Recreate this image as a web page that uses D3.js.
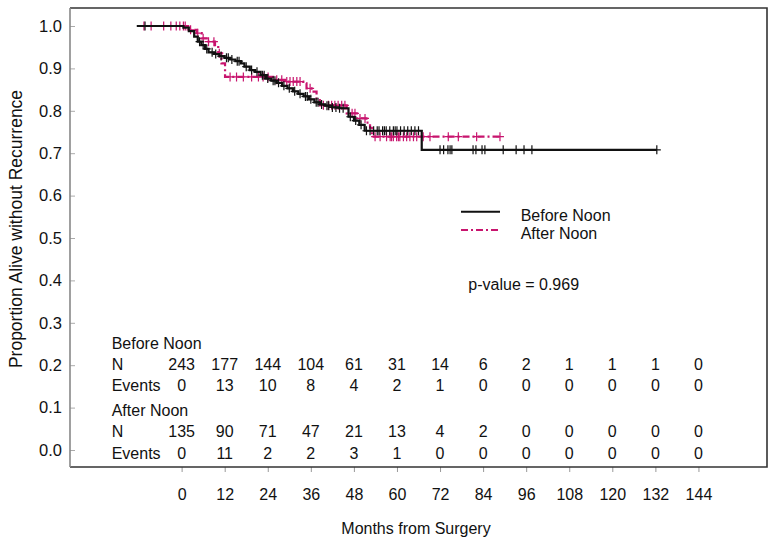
<!DOCTYPE html>
<html>
<head>
<meta charset="utf-8">
<script src="https://cdn.jsdelivr.net/npm/d3@7"></script>
<style>
  body { margin: 0; background: #fff; }
  svg text { font-family: "Liberation Sans", Arial, sans-serif; fill: #111; }
</style>
</head>
<body>
<svg></svg>
<script>
// KM steps: [month, proportion after drop]
const beforeSteps = [
  [-12.5, 1.0], [0.5, 0.996], [2, 0.988], [3.5, 0.975], [4.5, 0.963], [5.5, 0.955],
  [6.5, 0.946], [7.5, 0.938], [9, 0.934], [10.5, 0.929], [12, 0.925], [13.5, 0.921],
  [15, 0.917], [16.5, 0.912], [17.5, 0.904], [19, 0.896], [20.5, 0.892], [22, 0.884],
  [23.5, 0.876], [25, 0.871], [26.5, 0.866], [28, 0.859], [29.5, 0.853], [31, 0.846],
  [32.5, 0.84], [34, 0.834], [35.5, 0.827], [37, 0.82], [38.5, 0.815], [40, 0.812],
  [42, 0.808], [44, 0.806], [46.5, 0.786], [48, 0.777], [49.5, 0.767], [51, 0.753],
  [66.9, 0.708]
];
const beforeEnd = 132.4;
const beforeCensored = [
  -10.2, 5, 6, 7, 8.5, 9.5, 11, 12.5, 13, 14, 15.5, 16, 18, 19.5, 21, 22.5, 23, 24,
  25.5, 26, 27, 28.5, 30, 31.5, 33, 34.5, 35, 36, 37.5, 38, 39, 40.5, 41, 42, 43, 44,
  45, 47, 48.5, 50, 51.5, 52.5, 53.5, 54.5, 55, 56, 56.5, 57, 58, 59, 59.5, 60, 61,
  62, 63, 64, 65, 66, 72, 73, 74.2, 74.8, 75.3, 81.2, 82, 83.7, 84.5, 89.6, 93.2,
  95.4, 97.6, 132.4
];

const afterSteps = [
  [-12.1, 1.0], [1.8, 0.991], [4.2, 0.983], [5.6, 0.971], [7, 0.963], [9.3, 0.955],
  [10.2, 0.936], [11.1, 0.912], [12.1, 0.88], [25.5, 0.873], [29.3, 0.869],
  [33.9, 0.865], [34.8, 0.853], [36.2, 0.845], [37.6, 0.825], [38.5, 0.813],
  [46, 0.794], [48.8, 0.782], [51.5, 0.772], [52.5, 0.76], [53, 0.739]
];
const afterEnd = 89.2;
const afterCensored = [
  -10.5, -8.5, -5, -3, -1.5, -0.5, 0.5, 1, 2.5, 4.5, 6, 7.5, 9, 10.5, 13.5, 15.3,
  17.2, 19.5, 21.4, 22.7, 24.1, 26.5, 27.9, 29.3, 30.2, 31.1, 32.1, 33, 35.8, 39.5,
  40.9, 41.8, 42.7, 43.6, 44.6, 45.5, 47.5, 48.3, 49.7, 51.1, 53.9, 55.3, 57.1, 58.1,
  58.5, 59, 59.9, 60.4, 60.8, 61.8, 62.7, 63.6, 64.6, 65.5, 67.3, 69.2, 74.3, 77.1,
  82.2, 88.7
];

// tick labels
const xTicks = [0, 12, 24, 36, 48, 60, 72, 84, 96, 108, 120, 132, 144];
const yTicks = [0, 0.1, 0.2, 0.3, 0.4, 0.5, 0.6, 0.7, 0.8, 0.9, 1.0];

// number at risk table
const beforeN = [243, 177, 144, 104, 61, 31, 14, 6, 2, 1, 1, 1, 0];
const beforeEvents = [0, 13, 10, 8, 4, 2, 1, 0, 0, 0, 0, 0, 0];
const afterN = [135, 90, 71, 47, 21, 13, 4, 2, 0, 0, 0, 0, 0];
const afterEvents = [0, 11, 2, 2, 3, 1, 0, 0, 0, 0, 0, 0, 0];

const w = 776;
const h = 546;
const margin = { top: 8, left: 70, right: 9, bottom: 79 };
const chartW = w - margin.left - margin.right;
const chartH = h - margin.top - margin.bottom;

const black = "#111";
const pink = "#c8146e";

const svg = d3.select("svg").attr("width", w).attr("height", h);
const chart = svg.append("g")
  .attr("transform", `translate(${margin.left}, ${margin.top})`);

const xScale = d3.scaleLinear().domain([-31.1, 163.1]).range([0, chartW]);
const yScale = d3.scaleLinear().domain([0, 1]).range([442, 18]);

// x axis
const xAxis = chart.append("g")
  .attr("transform", `translate(0, ${chartH})`)
  .call(d3.axisBottom(xScale).tickValues(xTicks).tickSize(5).tickPadding(17));
xAxis.select(".domain").remove();
xAxis.selectAll("line").attr("stroke", "#999");
xAxis.selectAll("text").style("font-size", "16px").attr("fill", "#111");

// y axis, ticks pointing inward
const yAxis = chart.append("g")
  .call(d3.axisLeft(yScale).tickValues(yTicks).tickSize(-5).tickPadding(8)
    .tickFormat(d3.format(".1f")));
yAxis.select(".domain").remove();
yAxis.selectAll("line").attr("stroke", "#aaa");
yAxis.selectAll("text").style("font-size", "16.5px").attr("fill", "#111");

// frame
chart.append("path")
  .attr("d", `M0,${chartH}H${chartW}V0H0`)
  .attr("fill", "none").attr("stroke", "#333").attr("stroke-width", 1.6);
chart.append("line")
  .attr("x1", 0).attr("x2", 0).attr("y1", 0).attr("y2", chartH)
  .attr("stroke", "#888").attr("stroke-width", 1.6);

// step line helper
const line = d3.line()
  .x(d => xScale(d[0]))
  .y(d => yScale(d[1]))
  .curve(d3.curveStepAfter);

function survAt(steps, t) {
  const i = d3.bisector(d => d[0]).right(steps, t) - 1;
  return steps[Math.max(i, 0)][1];
}

function drawCurve(steps, end, censored, color, dash) {
  const pts = steps.concat([[end, steps[steps.length - 1][1]]]);
  chart.append("path")
    .datum(pts)
    .attr("d", line)
    .attr("fill", "none")
    .attr("stroke", color)
    .attr("stroke-width", 2.2)
    .attr("stroke-dasharray", dash);
  chart.append("g")
    .selectAll("path")
    .data(censored)
    .enter()
    .append("path")
    .attr("d", t => {
      const cx = xScale(t), cy = yScale(survAt(steps, t));
      return `M${cx - 4},${cy}H${cx + 4}M${cx},${cy - 4.5}V${cy + 4.5}`;
    })
    .attr("stroke", color)
    .attr("stroke-width", 1.2);
}

drawCurve(afterSteps, afterEnd, afterCensored, pink, "7,3,2,3");
drawCurve(beforeSteps, beforeEnd, beforeCensored, black, null);

// legend
const legend = chart.append("g");
legend.append("line")
  .attr("x1", 391).attr("x2", 430).attr("y1", 203.7).attr("y2", 203.7)
  .attr("stroke", black).attr("stroke-width", 2);
legend.append("line")
  .attr("x1", 391).attr("x2", 430).attr("y1", 222).attr("y2", 222)
  .attr("stroke", pink).attr("stroke-width", 2).attr("stroke-dasharray", "7,3,2,3");
legend.append("text").attr("x", 450.7).attr("y", 207).attr("dy", "0.35em")
  .style("font-size", "16px").text("Before Noon");
legend.append("text").attr("x", 450.7).attr("y", 225.3).attr("dy", "0.35em")
  .style("font-size", "16px").text("After Noon");

chart.append("text").attr("x", 398.3).attr("y", 276).attr("dy", "0.35em")
  .style("font-size", "16px").text("p-value = 0.969");

// number at risk table
const rows = [
  { label: "Before Noon", y: 335, values: null },
  { label: "N", y: 356.3, values: beforeN },
  { label: "Events", y: 377.3, values: beforeEvents },
  { label: "After Noon", y: 402, values: null },
  { label: "N", y: 423.7, values: afterN },
  { label: "Events", y: 445.3, values: afterEvents }
];
const table = chart.append("g");
rows.forEach(r => {
  table.append("text")
    .attr("x", 41.7).attr("y", r.y).attr("dy", "0.35em")
    .style("font-size", "16px").text(r.label);
  if (r.values) {
    table.selectAll(null)
      .data(r.values)
      .enter()
      .append("text")
      .attr("x", (d, i) => xScale(xTicks[i]))
      .attr("y", r.y).attr("dy", "0.35em")
      .attr("text-anchor", "middle")
      .style("font-size", "16px")
      .text(d => d);
  }
});

// axis titles
svg.append("text")
  .attr("transform", "translate(16, 229) rotate(-90)")
  .attr("text-anchor", "middle").attr("dy", "0.35em")
  .style("font-size", "17.5px")
  .text("Proportion Alive without Recurrence");

svg.append("text")
  .attr("x", 416).attr("y", 528).attr("dy", "0.35em")
  .attr("text-anchor", "middle")
  .style("font-size", "16px")
  .text("Months from Surgery");
</script>
</body>
</html>
